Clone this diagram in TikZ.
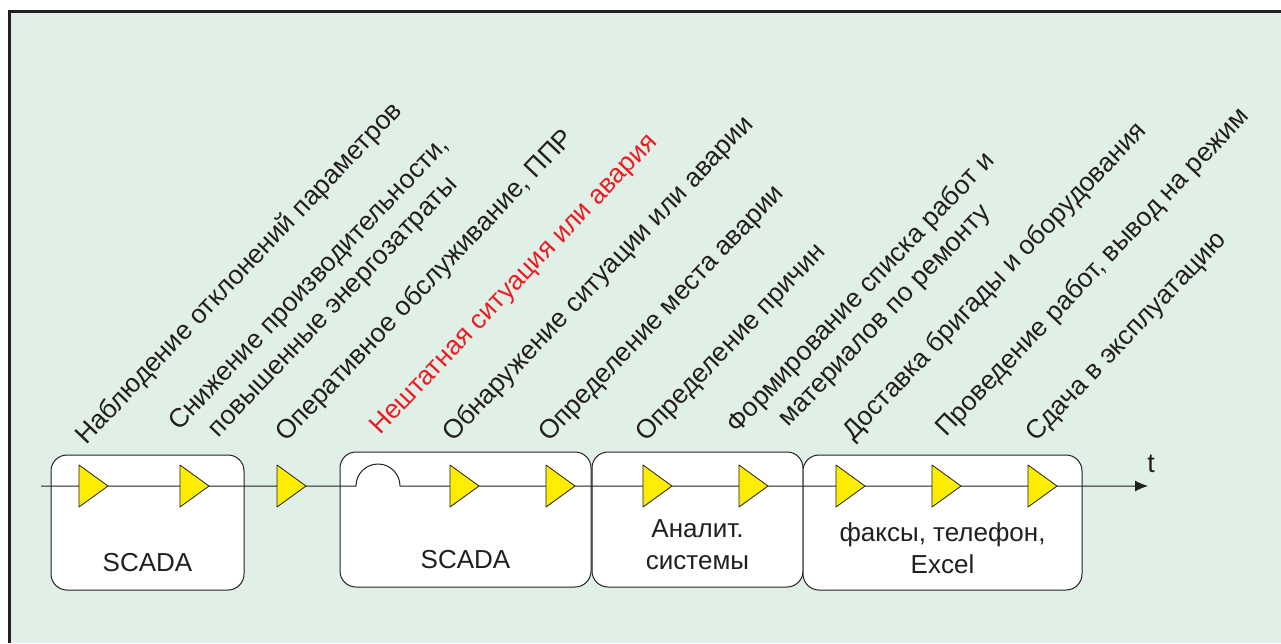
\documentclass[tikz,border=0pt]{standalone}
\usepackage{fontspec}
\setmainfont{Liberation Sans}
\usetikzlibrary{arrows.meta}

\definecolor{panelgreen}{RGB}{225,240,230}
\definecolor{inkgray}{RGB}{35,31,32}
\definecolor{alarmred}{RGB}{237,28,36}
\definecolor{stageyellow}{RGB}{255,237,0}

\begin{document}
\begin{tikzpicture}[x=1pt,y=-1pt,
    sysbox/.style={draw=inkgray, fill=white, line width=1pt, rounded corners=16pt, inner sep=0pt},
    systext/.style={text=inkgray, inner sep=0pt, align=center, font=\fontsize{26}{32}\selectfont},
    event/.style={text=inkgray, rotate=46.5, anchor=base west, inner sep=0pt, align=center, font=\fontsize{26.5}{33}\selectfont},
    eventpair/.style={event, anchor=south west},
    timeline/.style={draw=inkgray, line width=1pt, -{Latex[length=13pt,width=11pt]}},
    stage/.style={draw=inkgray, fill=stageyellow, line width=0.8pt, line join=round}]

        % Panel
        \useasboundingbox (0,0) rectangle (1281,643);
        \fill[white] (0,0) rectangle (1281,643);
        \fill[panelgreen] (8,10) rectangle (1281,643);
        \draw[inkgray, line width=2.6pt] (9.3,643) -- (9.3,11.3) -- (1281,11.3);

        % Systems
        \node[sysbox, minimum width=193pt, minimum height=135pt] (scadaA) at (147.5,522.5) {};
        \node[sysbox, minimum width=251pt, minimum height=135pt] (scadaB) at (465.5,519.5) {};
        \node[sysbox, minimum width=211pt, minimum height=135pt] (analyt) at (697.5,519.5) {};
        \node[sysbox, minimum width=279pt, minimum height=135pt] (office) at (942.5,522.5) {};

        \node[systext] (scadaAtext) at (147.5,563) {SCADA};
        \node[systext] (scadaBtext) at (465.5,560) {SCADA};
        \node[systext] (analyttext) at (697.5,545) {Аналит.\\системы};
        \node[systext] (officetext) at (942.5,548) {факсы, телефон,\\Excel};

        % Time axis
        \coordinate (tstart) at (41,486);
        \coordinate (tend) at (1148,486);
        \draw[timeline] (tstart) -- (356,486) arc[start angle=180, end angle=360, radius=22] -- (tend);
        \node[text=inkgray, inner sep=0pt, font=\fontsize{27}{30}\selectfont] (tlabel) at (1151,464) {t};

        % Stages
        \draw[stage] (79,465) -- ++(29,21) -- ++(-29,21) -- cycle;
        \draw[stage] (180,465) -- ++(29,21) -- ++(-29,21) -- cycle;
        \draw[stage] (277,465) -- ++(29,21) -- ++(-29,21) -- cycle;
        \draw[stage] (450,465) -- ++(29,21) -- ++(-29,21) -- cycle;
        \draw[stage] (546,465) -- ++(29,21) -- ++(-29,21) -- cycle;
        \draw[stage] (643,465) -- ++(29,21) -- ++(-29,21) -- cycle;
        \draw[stage] (739,465) -- ++(29,21) -- ++(-29,21) -- cycle;
        \draw[stage] (836,465) -- ++(29,21) -- ++(-29,21) -- cycle;
        \draw[stage] (932,465) -- ++(29,21) -- ++(-29,21) -- cycle;
        \draw[stage] (1028,465) -- ++(29,21) -- ++(-29,21) -- cycle;

        % Events
        \node[event] (watch) at (86,446) {Наблюдение отклонений параметров};
        \node[eventpair] (drop) at (207,458.5) {Снижение производительности,\\повышенные энергозатраты};
        \node[event] (service) at (286,443) {Оперативное обслуживание, ППР};
        \node[event, text=alarmred] (fault) at (380,436) {Нештатная ситуация или авария};
        \node[event] (detect) at (453,443) {Обнаружение ситуации или аварии};
        \node[event] (locate) at (549,443) {Определение места аварии};
        \node[event] (cause) at (646,443) {Определение причин};
        \node[eventpair] (plan) at (765,461) {Формирование списка работ и\\материалов по ремонту};
        \node[event] (deliver) at (853,442) {Доставка бригады и оборудования};
        \node[event] (repair) at (946,438) {Проведение работ, вывод на режим};
        \node[event] (handover) at (1036,443) {Сдача в эксплуатацию};

\end{tikzpicture}
\end{document}
